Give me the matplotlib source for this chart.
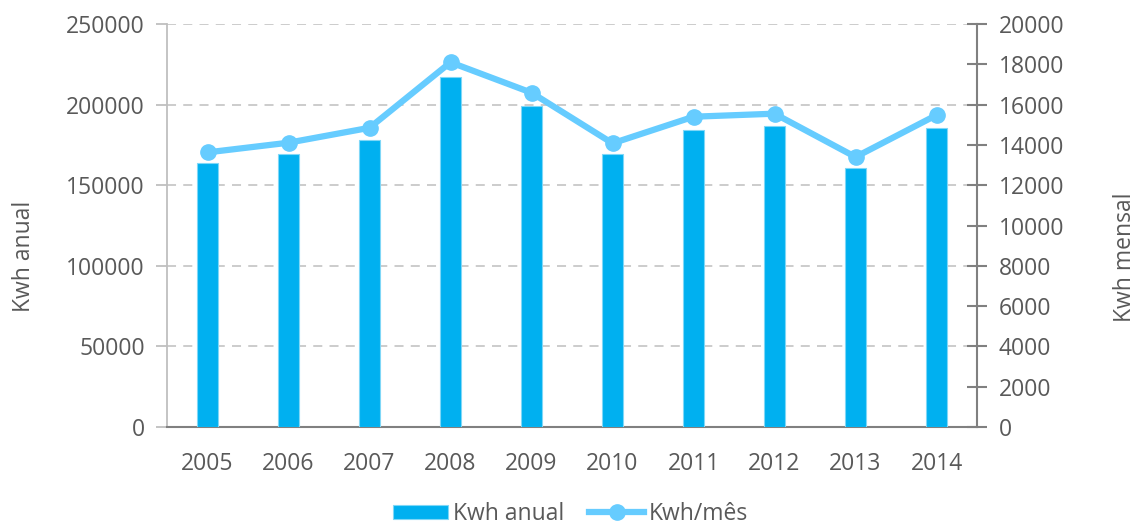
import numpy as np
import matplotlib
matplotlib.use('Agg')
import matplotlib.pyplot as plt

plt.rcParams['font.family'] = ['Open Sans', 'DejaVu Sans']

#data
years = ['2005', '2006', '2007', '2008', '2009', '2010', '2011', '2012', '2013', '2014']
kwh_anual = [163600, 169300, 178200, 217100, 198900, 169100, 184400, 186500, 160700, 185700]
kwh_mes = [13630, 14110, 14850, 18100, 16590, 14080, 15400, 15550, 13400, 15480]

txt = '#595959'
fs = 16.5
x = np.arange(len(years))

fig = plt.figure(figsize=(11.41, 5.28), dpi=100)
ax = fig.add_axes([0.1464, 0.1913, 0.7099, 0.7632])
ax2 = ax.twinx()

ax.bar(x, kwh_anual, width=0.27, color='#00B0F0', edgecolor='#7FD7F7',
       linewidth=0.8, label='Kwh anual', zorder=3)
ax2.plot(x, kwh_mes, color='#66CCFF', linewidth=4.5, marker='o',
         markersize=11, label='Kwh/mês', zorder=4)

ax.set_xlim(-0.5, 9.5)
ax.set_ylim(0, 250000)
ax2.set_ylim(0, 20000)
ax.set_yticks(np.arange(0, 250001, 50000))
ax2.set_yticks(np.arange(0, 20001, 2000))
ax.set_xticks(x)
ax.set_xticklabels(years)

ax.grid(axis='y', color='#C8C8C8', linestyle=(0, (5, 4)), linewidth=1.3, zorder=0)
ax.set_axisbelow(True)

for s in ['top', 'right']:
    ax.spines[s].set_visible(False)
for s in ['top', 'left', 'bottom']:
    ax2.spines[s].set_visible(False)
ax.spines['left'].set_color('#BFBFBF')
ax.spines['left'].set_linewidth(1.3)
ax.spines['bottom'].set_color('#808080')
ax.spines['bottom'].set_linewidth(1.5)
ax2.spines['right'].set_color('#808080')
ax2.spines['right'].set_linewidth(1.5)

ax.tick_params(axis='y', colors='#BFBFBF', length=8, width=1.3, labelcolor=txt,
               labelsize=fs, pad=8)
ax.tick_params(axis='x', length=0, labelcolor=txt, labelsize=fs, pad=18)
ax2.tick_params(axis='y', colors='#808080', direction='inout', length=15, width=1.5,
                labelcolor=txt, labelsize=fs, pad=8)

ax.set_ylabel('Kwh anual', color=txt, fontsize=fs)
ax2.set_ylabel('Kwh mensal', color=txt, fontsize=fs)
ax.yaxis.set_label_coords(-0.162, 0.424)
ax2.yaxis.set_label_coords(1.168, 0.42)

h1, l1 = ax.get_legend_handles_labels()
h2, l2 = ax2.get_legend_handles_labels()
fig.legend(h1 + h2, l1 + l2, loc='lower center', bbox_to_anchor=(0.5, -0.035),
           ncol=2, frameon=False, fontsize=fs, labelcolor=txt,
           handlelength=2.4, handleheight=0.55, handletextpad=0.2, columnspacing=1.1)

fig.savefig('out.png', dpi=100)
